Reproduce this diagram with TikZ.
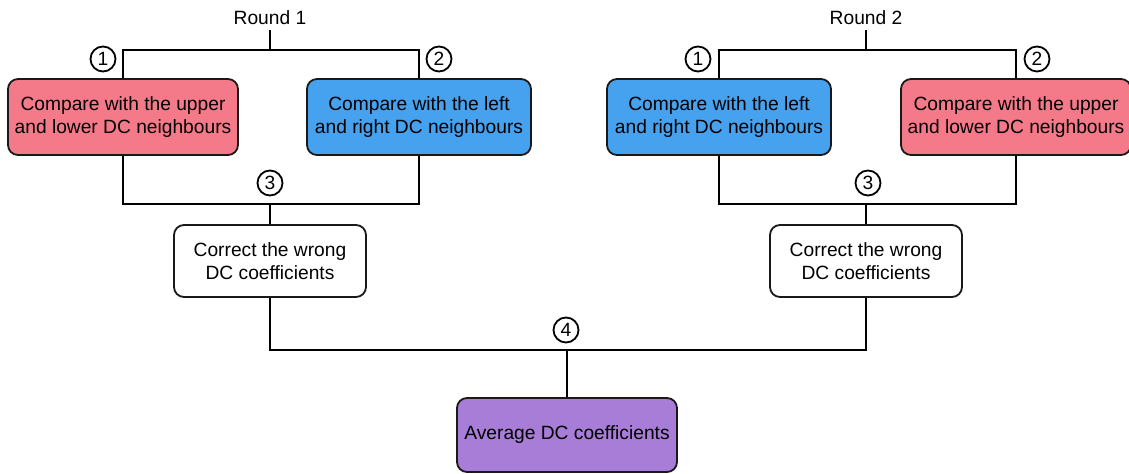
\documentclass[tikz,border=0pt]{standalone}
\usepackage{fontspec}
\setmainfont{Liberation Sans}
\usepackage{tikz}
\definecolor{updown}{RGB}{245,122,137}
\definecolor{leftright}{RGB}{70,161,238}
\definecolor{average}{RGB}{167,125,215}
\tikzset{
  box/.style={draw=black!90, line width=0.9pt, rounded corners=5pt, align=center,
    minimum width=115pt, minimum height=38pt, font=\fontsize{9.6}{11.5}\selectfont},
  num/.style={draw, circle, line width=0.9pt, inner sep=0pt, minimum size=12.5pt,
    font=\fontsize{9.6}{11}\selectfont},
  lbl/.style={inner sep=2pt, font=\fontsize{9.6}{11}\selectfont},
}
\begin{document}
\begin{tikzpicture}[x=0.5pt, y=-0.5pt, line width=1pt]
\useasboundingbox (0,0) rectangle (1129,474);
% round 1
\node[lbl] (round1) at (270,18) {Round 1};
\node[box, fill=updown] (udA) at (123,117) {Compare with the upper\\and lower DC neighbours};
\node[box, fill=leftright, minimum width=112pt] (lrA) at (419,117) {Compare with the left\\and right DC neighbours};
\node[box, fill=white, minimum width=96pt, minimum height=36pt] (fixA) at (270,261) {Correct the wrong\\DC coefficients};
\coordinate (topA) at (270,50);
\coordinate (midA) at (270,204);
\draw (round1) -- (topA);
\draw (udA.north) |- (topA) -| (lrA.north);
\draw (udA.south) |- (midA) -| (lrA.south);
\draw (midA) -- (fixA);
\node[num] (oneA) at (103,59) {1};
\node[num] (twoA) at (439,59) {2};
\node[num] (threeA) at (270,183) {3};
% round 2
\node[lbl] (round2) at (866,18) {Round 2};
\node[box, fill=leftright, minimum width=112pt] (lrB) at (719,117) {Compare with the left\\and right DC neighbours};
\node[box, fill=updown] (udB) at (1016,117) {Compare with the upper\\and lower DC neighbours};
\node[box, fill=white, minimum width=96pt, minimum height=36pt] (fixB) at (866,261) {Correct the wrong\\DC coefficients};
\coordinate (topB) at (866,50);
\coordinate (midB) at (866,204);
\draw (round2) -- (topB);
\draw (lrB.north) |- (topB) -| (udB.north);
\draw (lrB.south) |- (midB) -| (udB.south);
\draw (midB) -- (fixB);
\node[num] (oneB) at (698,59) {1};
\node[num] (twoB) at (1037,59) {2};
\node[num] (threeB) at (868,183) {3};
% averaging
\node[box, fill=average, minimum width=110pt, minimum height=37pt] (avg) at (567,435) {Average DC coefficients};
\coordinate (bot) at (567,350);
\draw (fixA.south) |- (bot) -| (fixB.south);
\draw (bot) -- (avg);
\node[num] (four) at (566,330) {4};
\end{tikzpicture}
\end{document}
